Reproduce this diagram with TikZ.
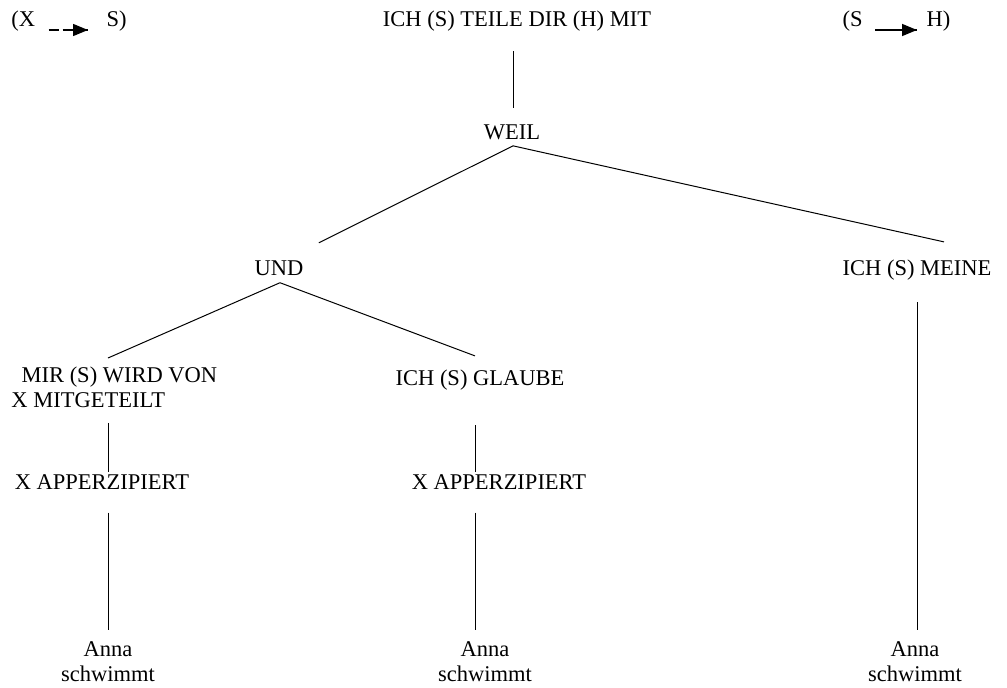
\documentclass[tikz,border=0pt]{standalone}
\usepackage{fontspec}
\setmainfont{Liberation Serif}
\usetikzlibrary{calc,arrows.meta,
                 decorations.markings}
\tikzset{lbl/.style = {inner sep=0pt, font=\fontsize{22.5}{25}\selectfont}}
\tikzset{pfeil/.style = {line width=1.5pt, decoration={markings, mark=at position 1 with {\arrow{Triangle[length=15pt,width=12pt]}}}, postaction={decorate}}}

\begin{document}
\begin{tikzpicture}[x=1pt,y=-1pt,line width=1pt]
\useasboundingbox (0,0) rectangle (1007,688);
% kopfzeile
\node[lbl, anchor=base west] (xl) at (11,27) {(X};
\node[lbl, anchor=base west] (sr) at (106,27) {S)};
\draw [pfeil, dash pattern=on 10pt off 4pt on 40pt off 0pt] ($(xl.base east)+(13,3)$) -- ($(sr.base west)+(-18,3)$);
\node[lbl, anchor=base] (top) at (517,27) {ICH (S) TEILE DIR (H) MIT};
\node[lbl, anchor=base west] (sl) at (842,27) {(S};
\node[lbl, anchor=base west] (hr) at (926,27) {H)};
\draw [pfeil] ($(sl.base east)+(12,3)$) -- ($(hr.base west)+(-9,3)$);
% baum
\node[lbl, anchor=base] (weil) at (512,139) {WEIL};
\node[lbl, anchor=base] (und) at (279,275) {UND};
\node[lbl, anchor=base] (meine) at (917,275) {ICH (S) MEINE};
\node[lbl, anchor=north west, align=left] (mir) at (11,366) {\hspace*{0.45em}MIR (S) WIRD VON\\X MITGETEILT};
\node[lbl, anchor=base] (glaube) at (480,385) {ICH (S) GLAUBE};
\node[lbl, anchor=base] (app1) at (102,489) {X APPERZIPIERT};
\node[lbl, anchor=base] (app2) at (499,489) {X APPERZIPIERT};
\node[lbl, anchor=north, align=center] (anna1) at (108,641) {Anna\\schwimmt};
\node[lbl, anchor=north, align=center] (anna2) at (485,641) {Anna\\schwimmt};
\node[lbl, anchor=north, align=center] (anna3) at (915,641) {Anna\\schwimmt};
\draw ($(top.south -| weil.north)+(1,19)$) -- ($(weil.north)+(1,-16)$);
\draw ($(weil.south)+(1,6)$) -- ($(und.north east)+(15,-17)$);
\draw ($(weil.south)+(1,6)$) -- ($(meine.north)+(27,-17)$);
\draw ($(und.south)+(1,7)$) -- ($(mir.north west)+(97,-8)$);
\draw ($(und.south)+(1,7)$) -- ($(glaube.north)+(-5,-13)$);
\draw ($(mir.south -| app1.north)+(6,15)$) -- ($(app1.north)+(6,-2)$);
\draw ($(glaube.south -| app2.north)+(-24,35)$) -- ($(app2.north)+(-24,-2)$);
\draw ($(app1.south)+(6,23)$) -- ($(app1.south |- anna1.north)+(6,-11)$);
\draw ($(app2.south)+(-24,23)$) -- ($(app2.south |- anna2.north)+(-24,-11)$);
\draw ($(meine.south)+(0,22)$) -- ($(meine.south |- anna3.north)+(0,-11)$);
\end{tikzpicture}
\end{document}
